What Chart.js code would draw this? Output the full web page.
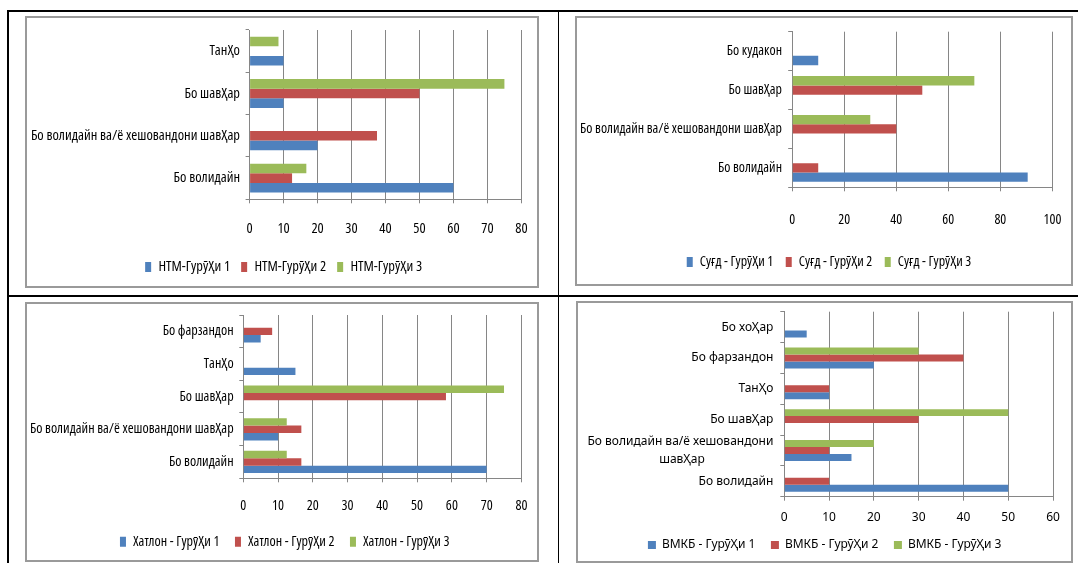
<!DOCTYPE html>
<html>
<head>
<meta charset="utf-8">
<script src="https://cdn.jsdelivr.net/npm/chart.js@4.4.1/dist/chart.umd.min.js"></script>
<style>
body { margin: 0; background: #fff; width: 1078px; height: 563px; position: relative; overflow: hidden; }
.ln { position: absolute; background: #000; }
.fr { position: absolute; border: 2px solid #9a9a9a; box-sizing: border-box; background: #fff; }
.fr canvas { display: block; }
</style>
</head>
<body>
<div class="ln" style="left:7px;top:10px;width:1071px;height:2px"></div>
<div class="ln" style="left:7px;top:10px;width:2px;height:553px"></div>
<div class="ln" style="left:558px;top:10px;width:1px;height:553px"></div>
<div class="ln" style="left:7px;top:295px;width:1071px;height:2px"></div>

<div class="fr" style="left:25px;top:16px;width:514px;height:272px"><canvas id="c1" width="510" height="268"></canvas></div>
<div class="fr" style="left:575px;top:16px;width:498px;height:270px"><canvas id="c2" width="494" height="266"></canvas></div>
<div class="fr" style="left:25px;top:302px;width:514px;height:260px"><canvas id="c3" width="510" height="256"></canvas></div>
<div class="fr" style="left:576px;top:301px;width:497px;height:262px"><canvas id="c4" width="493" height="258"></canvas></div>

<script>
// НТМ
var htmCats = ['Бо волидайн', 'Бо волидайн ва/ё хешовандони шавҲар', 'Бо шавҲар', 'ТанҲо'];
var htmG1 = [60, 20, 10, 10];
var htmG2 = [12.5, 37.5, 50, 0];
var htmG3 = [16.7, 0, 75, 8.5];
var htmNames = ['НТМ-ГурӯҲи 1', 'НТМ-ГурӯҲи 2', 'НТМ-ГурӯҲи 3'];
var htmMax = 80, htmStep = 10;

// Суғд
var sughdCats = ['Бо волидайн', 'Бо волидайн ва/ё хешовандони шавҲар', 'Бо шавҲар', 'Бо кудакон'];
var sughdG1 = [90.5, 0, 0, 10];
var sughdG2 = [10, 40, 50, 0];
var sughdG3 = [0, 30, 70, 0];
var sughdNames = ['Суғд - ГурӯҲи 1', 'Суғд - ГурӯҲи 2', 'Суғд - ГурӯҲи 3'];
var sughdMax = 100, sughdStep = 20;

// Хатлон
var khatlonCats = ['Бо волидайн', 'Бо волидайн ва/ё хешовандони шавҲар', 'Бо шавҲар', 'ТанҲо', 'Бо фарзандон'];
var khatlonG1 = [70, 10, 0, 15, 5];
var khatlonG2 = [16.7, 16.7, 58.3, 0, 8.3];
var khatlonG3 = [12.5, 12.5, 75, 0, 0];
var khatlonNames = ['Хатлон - ГурӯҲи 1', 'Хатлон - ГурӯҲи 2', 'Хатлон - ГурӯҲи 3'];
var khatlonMax = 80, khatlonStep = 10;

// ВМКБ
var vmkbCats = ['Бо волидайн', ['Бо волидайн ва/ё хешовандони', 'шавҲар'], 'Бо шавҲар', 'ТанҲо', 'Бо фарзандон', 'Бо хоҲар'];
var vmkbG1 = [50, 15, 0, 10, 20, 5];
var vmkbG2 = [10, 10, 30, 10, 40, 0];
var vmkbG3 = [0, 20, 50, 0, 30, 0];
var vmkbNames = ['ВМКБ - ГурӯҲи 1', 'ВМКБ - ГурӯҲи 2', 'ВМКБ - ГурӯҲи 3'];
var vmkbMax = 60, vmkbStep = 10;

var colors = ['#4F81BD', '#C0504D', '#9BBB59'];
var longLabel = 'Бо волидайн ва/ё хешовандони шавҲар';

// the first three charts use a narrow font; pick the closest one installed
var narrowBase = (function()
{
	var m = document.createElement('canvas').getContext('2d');
	var cands = [['condensed', "'Noto Sans'"], ['condensed', "'Open Sans'"], ['', "'Liberation Sans Narrow'"],
		['', "'DejaVu Sans Condensed'"], ['', "'Liberation Sans'"], ['', "Roboto"], ['', "'Noto Sans'"]];
	var best = null;
	cands.forEach(function(c) {
		var pre = c[0] ? c[0] + ' ' : '';
		m.font = '10px serif';
		m.font = pre + '14px ' + c[1] + ', monospace';
		if (m.font === '10px serif') return;
		var a = m.measureText(longLabel).width;
		m.font = pre + '14px ' + c[1] + ', serif';
		var b = m.measureText(longLabel).width;
		if (Math.abs(a - b) > 0.5) return;
		var d = Math.abs(a - 208);
		if (!best || d < best.d) best = { pre: c[0], fam: c[1], w: a, d: d };
	});
	return best || { pre: '', fam: 'sans-serif', w: 208 };
})();

function narrowFont(target) {
	var size = Math.max(11, Math.min(14.5, 14 * target / narrowBase.w));
	return { weight: narrowBase.pre || undefined, family: narrowBase.fam, size: size };
}

function fontStr(f) { return (f.weight ? f.weight + ' ' : '') + f.size + 'px ' + f.family; }

function centerLines(lines, fstr) {
	var m = document.createElement('canvas').getContext('2d');
	m.font = fstr;
	var widths = lines.map(function(s) { return m.measureText(s).width; });
	var maxW = Math.max.apply(null, widths);
	var sp = m.measureText('\u00A0').width;
	return lines.map(function(s, i) {
		var n = Math.round((maxW - widths[i]) / 2 / sp);
		return s + '\u00A0'.repeat(n);
	});
}

function makeChart(id, cats, g1, g2, g3, names, xMax, xStep, lay)
{
	var f = lay.font, fs = f.size, tl = 4;
	var ih = Math.max(fs, lay.boxH);
	var m = document.createElement('canvas').getContext('2d');
	m.font = fontStr(f);
	var P = Math.max(4, lay.legStep - (lay.boxW + fs / 2 + m.measureText(names[0]).width));
	var legTop = lay.legCy - P - ih / 2;
	var padB = lay.H - (legTop + ih + P + 10);
	var xH = legTop - lay.b;
	// left padding stays 0 so the axis labels are not clipped; a negative right
	// padding moves the centred legend
	var R = lay.W - 2 * lay.legCx;
	var xPadR = lay.W - lay.r;
	var yW = lay.l;
	var yLh = lay.lh || 1.2;
	var baseFont = { family: f.family, size: fs, weight: f.weight };

	var series = [g1, g2, g3];
	var datasets = [];
	for (var k = 2; k >= 0; k--) {
		datasets.push({
			label: names[k],
			data: series[k].slice().reverse(),
			backgroundColor: colors[k],
			categoryPercentage: lay.cat,
			barPercentage: 1
		});
	}

	new Chart(document.getElementById(id), {
		type: 'bar',
		data: { labels: cats.slice().reverse(), datasets: datasets },
		options: {
			indexAxis: 'y',
			responsive: false,
			animation: false,
			devicePixelRatio: 1,
			layout: { padding: { left: 0, right: R, top: lay.t, bottom: padB } },
			plugins: {
				legend: {
					position: 'bottom',
					labels: {
						boxWidth: lay.boxW, boxHeight: lay.boxH, padding: P, color: '#000',
						font: baseFont,
						sort: function(a, b) { return b.datasetIndex - a.datasetIndex; }
					}
				},
				tooltip: { enabled: false }
			},
			scales: {
				x: {
					min: 0, max: xMax,
					ticks: { stepSize: xStep, color: '#000', font: baseFont, padding: lay.xOff - tl - fs * 0.6, maxRotation: 0 },
					grid: { color: '#868686', tickLength: tl },
					border: { color: '#868686' },
					afterFit: function(s) { s.height = xH; s.paddingLeft = 0; s.paddingRight = xPadR; }
				},
				y: {
					ticks: {
						color: '#000', autoSkip: false, padding: lay.gap - tl,
						font: { family: f.family, size: fs, weight: f.weight, lineHeight: yLh },
						callback: function(v) {
							var lab = this.getLabelForValue(v);
							if (Array.isArray(lab)) return centerLines(lab, fontStr(f));
							return lab;
						}
					},
					grid: { drawOnChartArea: false, color: '#868686', tickLength: tl, offset: true },
					border: { color: '#868686' },
					afterFit: function(s) { s.width = yW; s.paddingTop = 0; s.paddingBottom = 0; }
				}
			}
		}
	});
}

makeChart('c1', htmCats, htmG1, htmG2, htmG3, htmNames, htmMax, htmStep,
	{ W: 510, H: 268, l: 222.6, r: 494.4, t: 12, b: 181.3, legCx: 256.6, legCy: 249, legStep: 96,
	  xOff: 29.7, gap: 9.6, font: narrowFont(210), boxW: 6, boxH: 10, cat: 0.68 });

makeChart('c2', sughdCats, sughdG1, sughdG2, sughdG3, sughdNames, sughdMax, sughdStep,
	{ W: 494, H: 266, l: 215.2, r: 475.4, t: 13.7, b: 169.3, legCx: 252, legCy: 244, legStep: 99,
	  xOff: 32.7, gap: 10.2, font: narrowFont(202), boxW: 6, boxH: 10, cat: 0.72 });

makeChart('c3', khatlonCats, khatlonG1, khatlonG2, khatlonG3, khatlonNames, khatlonMax, khatlonStep,
	{ W: 510, H: 256, l: 216.3, r: 494.4, t: 11, b: 174.3, legCx: 257.7, legCy: 237.7, legStep: 115,
	  xOff: 27.7, gap: 9.7, font: narrowFont(204), boxW: 6, boxH: 10, cat: 0.68 });

makeChart('c4', vmkbCats, vmkbG1, vmkbG2, vmkbG3, vmkbNames, vmkbMax, vmkbStep,
	{ W: 493, H: 258, l: 206.3, r: 475, t: 8.7, b: 193.7, legCx: 246.7, legCy: 242, legStep: 123,
	  xOff: 21, gap: 10.9, font: { family: "'Noto Sans', sans-serif", size: 12 }, boxW: 8, boxH: 8, cat: 0.68, lh: 1.5 });
</script>
</body>
</html>
